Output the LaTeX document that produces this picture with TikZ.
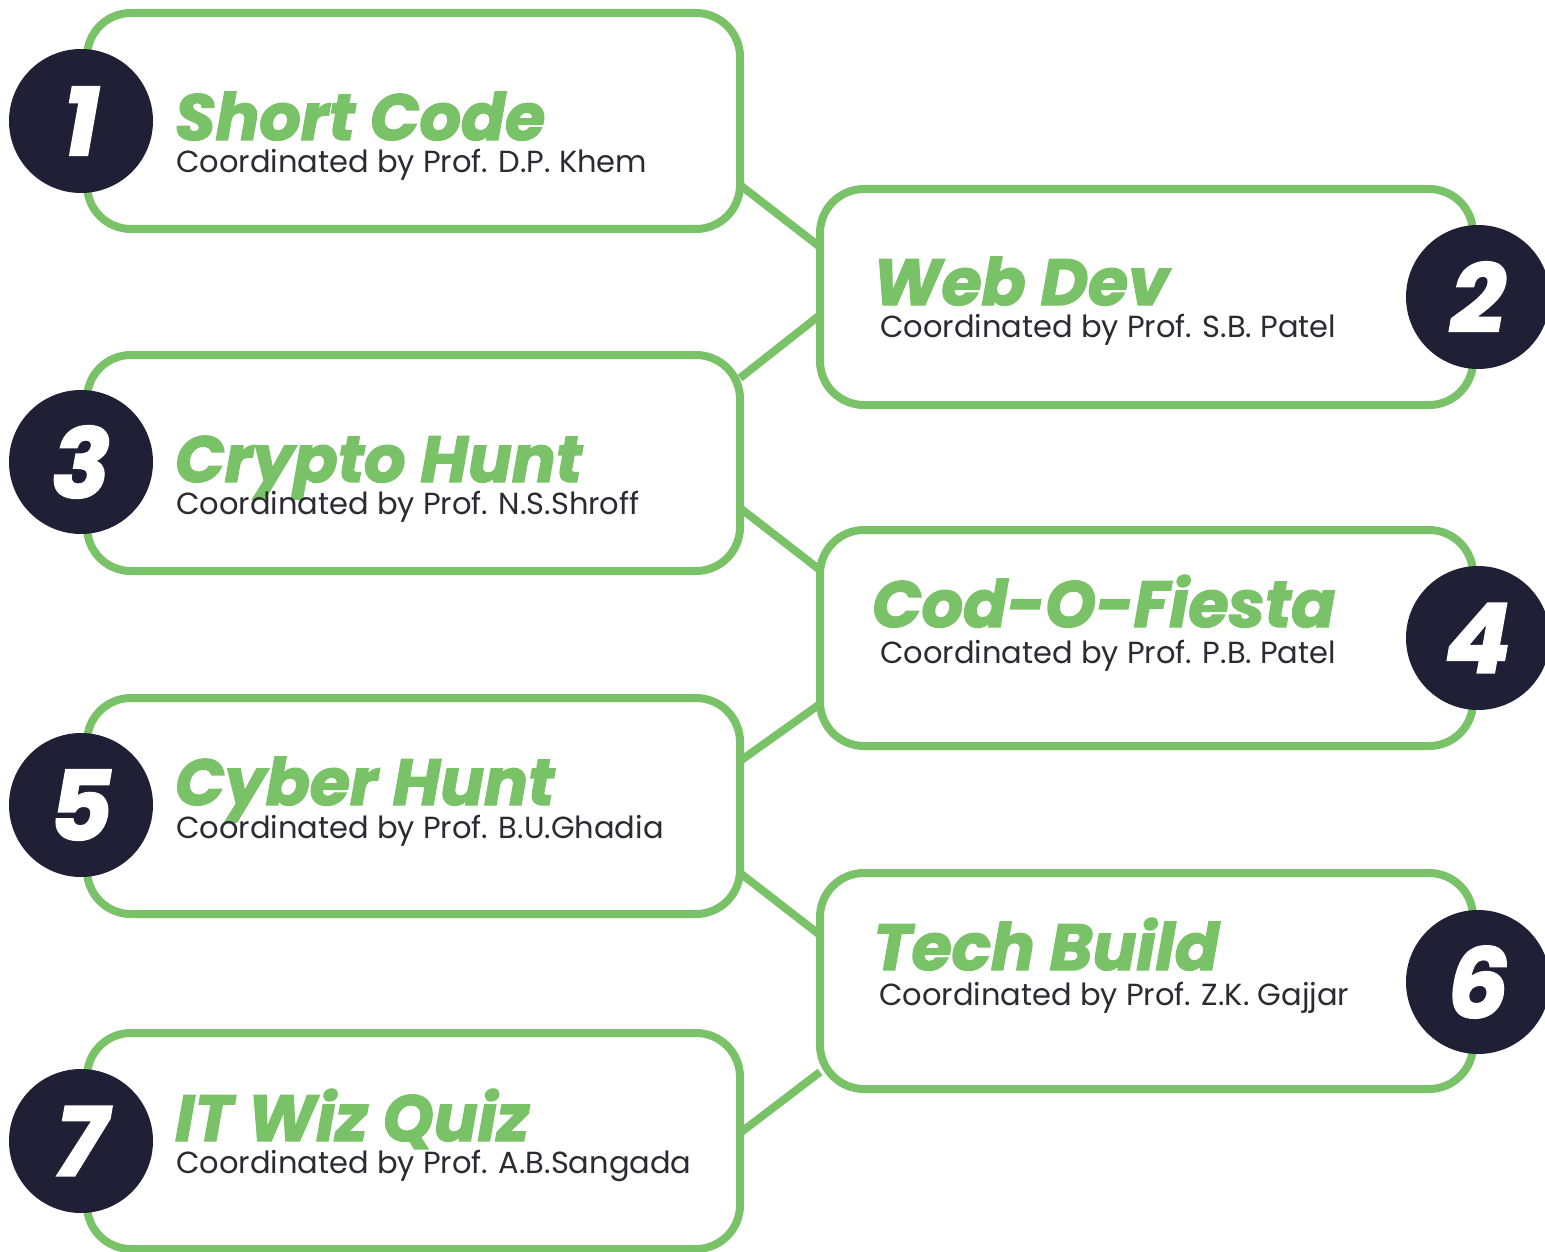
\documentclass[tikz,border=0pt]{standalone}
\usepackage{fontspec}
\setmainfont{Poppins}
\newfontfamily\heavyfont{Poppins}[BoldItalicFeatures={FakeBold=2.2}]
\definecolor{eventgreen}{HTML}{79C267}
\definecolor{badgenavy}{HTML}{1F2035}
\definecolor{subgray}{HTML}{2B2B33}
\tikzset{
  eventbox/.style={draw=eventgreen, line width=8pt, rounded corners=44pt,
    minimum width=653pt, minimum height=216pt, inner sep=0pt, outer sep=0pt},
  badge/.style={circle, fill=badgenavy, minimum size=144pt, inner sep=0pt,
    text=white, font=\fontsize{96}{96}\selectfont\heavyfont\bfseries\itshape},
  link/.style={draw=eventgreen, line width=8pt},
  eventtitle/.style={anchor=base west, inner sep=0pt, text=eventgreen,
    font=\fontsize{65}{65}\selectfont\heavyfont\bfseries\itshape},
  coordinator/.style={anchor=base west, inner sep=0pt, text=subgray,
    font=\fontsize{30.5}{30.5}\selectfont},
}
\begin{document}
\begin{tikzpicture}[x=1pt,y=-1pt]
  \path[use as bounding box, fill=white] (0,0) rectangle (1545,1252);
  % event boxes
  \node[eventbox] (b1) at (413.5,121) {};
  \node[eventbox] (b2) at (1146.5,297) {};
  \node[eventbox] (b3) at (413.5,463) {};
  \node[eventbox] (b4) at (1146.5,638) {};
  \node[eventbox] (b5) at (413.5,806) {};
  \node[eventbox] (b6) at (1146.5,981) {};
  \node[eventbox] (b7) at (413.5,1141) {};
  % zig-zag links
  \draw[link] ([yshift=-64pt]b1.east) -- ([yshift=50pt]b2.west);
  \draw[link] ([yshift=-18pt]b2.west) -- ([yshift=85pt]b3.east);
  \draw[link] ([yshift=-45pt]b3.east) -- ([yshift=68pt]b4.west);
  \draw[link] ([yshift=-66pt]b4.west) -- ([yshift=45pt]b5.east);
  \draw[link] ([yshift=-67pt]b5.east) -- ([yshift=46pt]b6.west);
  \draw[link] ([yshift=-91pt]b6.west) -- ([yshift=8pt]b7.east);
  % number badges
  \node[badge] (n1) at (81,121) {1};
  \node[badge] (n2) at (1478,297) {2};
  \node[badge] (n3) at (81,462) {3};
  \node[badge] (n4) at (1478,638) {4};
  \node[badge] (n5) at (81,805) {5};
  \node[badge] (n6) at (1478,982) {6};
  \node[badge] (n7) at (81,1141) {7};
  % titles and coordinators
  \node[eventtitle] (t1) at (175,140) {Short Code};
  \node[coordinator] (s1) at (176,173) {Coordinated by Prof. D.P. Khem};
  \node[eventtitle] (t2) at (873,305) {Web Dev};
  \node[coordinator] (s2) at (880,337) {Coordinated by Prof. S.B. Patel};
  \node[eventtitle] (t3) at (175,482) {Crypto Hunt};
  \node[coordinator] (s3) at (176,514) {Coordinated by Prof. N.S.Shroff};
  \node[eventtitle] (t4) at (872,627) {Cod-O-Fiesta};
  \node[coordinator] (s4) at (880,663) {Coordinated by Prof. P.B. Patel};
  \node[eventtitle] (t5) at (175,805) {Cyber Hunt};
  \node[coordinator] (s5) at (176,838) {Coordinated by Prof. B.U.Ghadia};
  \node[eventtitle] (t6) at (873,970) {Tech Build};
  \node[coordinator] (s6) at (879,1005) {Coordinated by Prof. Z.K. Gajjar};
  \node[eventtitle] (t7) at (175,1141) {IT Wiz Quiz};
  \node[coordinator] (s7) at (176,1173) {Coordinated by Prof. A.B.Sangada};
\end{tikzpicture}
\end{document}
